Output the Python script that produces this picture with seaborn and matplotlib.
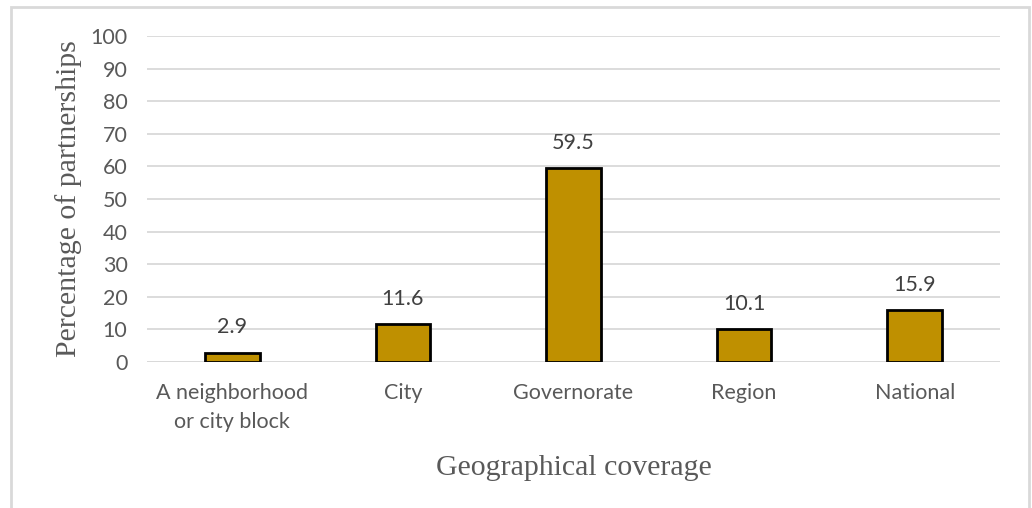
import matplotlib
matplotlib.use("Agg")
import matplotlib.pyplot as plt
import seaborn as sns
import pandas as pd
from matplotlib.patches import Rectangle

categories = ["A neighborhood\nor city block", "City", "Governorate", "Region", "National"]
percentages = [2.9, 11.6, 59.5, 10.1, 15.9]
y_ticks = [0, 10, 20, 30, 40, 50, 60, 70, 80, 90, 100]

df = pd.DataFrame({"coverage": categories, "pct": percentages})

sns.set_theme(style="white")
plt.rcParams["font.family"] = ["Lato", "DejaVu Sans"]

fig = plt.figure(figsize=(10.32, 5.08), dpi=100)
ax = fig.add_axes([0.1424, 0.2874, 0.8266, 0.6416])

# light outer frame around the whole chart
fig.patches.append(Rectangle((11 / 1032, -0.05), 1018 / 1032, 1 - 7 / 508 + 0.05,
                             transform=fig.transFigure, fill=False,
                             edgecolor="#D9D9D9", linewidth=2, zorder=0))

sns.barplot(data=df, x="coverage", y="pct", color="#BF9000", saturation=1,
            width=0.32, edgecolor="black", linewidth=2, ax=ax, zorder=3)

ax.set_ylim(0, 100)
ax.set_xlim(-0.5, len(categories) - 0.5)
ax.set_yticks(y_ticks)
ax.yaxis.grid(True, color="#D9D9D9", linewidth=1.3, zorder=0)
ax.set_axisbelow(True)
for s in ax.spines.values():
    s.set_visible(False)
ax.axhline(0, color="#D9D9D9", linewidth=1.3, zorder=1)

ax.tick_params(axis="y", length=0, pad=14, labelsize=15.5, labelcolor="#595959")
ax.tick_params(axis="x", length=0, pad=15, labelsize=15.5, labelcolor="#595959")
for lbl in ax.get_xticklabels():
    lbl.set_linespacing(1.6)

for i, v in enumerate(percentages):
    ax.annotate(f"{v}", (i, v), xytext=(0, 11), textcoords="offset points",
                ha="center", va="bottom", fontsize=15.5, color="#404040")

serif = ["Liberation Serif", "DejaVu Serif"]
ax.set_ylabel("Percentage of partnerships", family=serif, fontsize=21.5,
              color="#595959", labelpad=6)
ax.set_xlabel("Geographical coverage", family=serif, fontsize=21.5,
              color="#595959", labelpad=16)

fig.savefig("out.png", dpi=100)
